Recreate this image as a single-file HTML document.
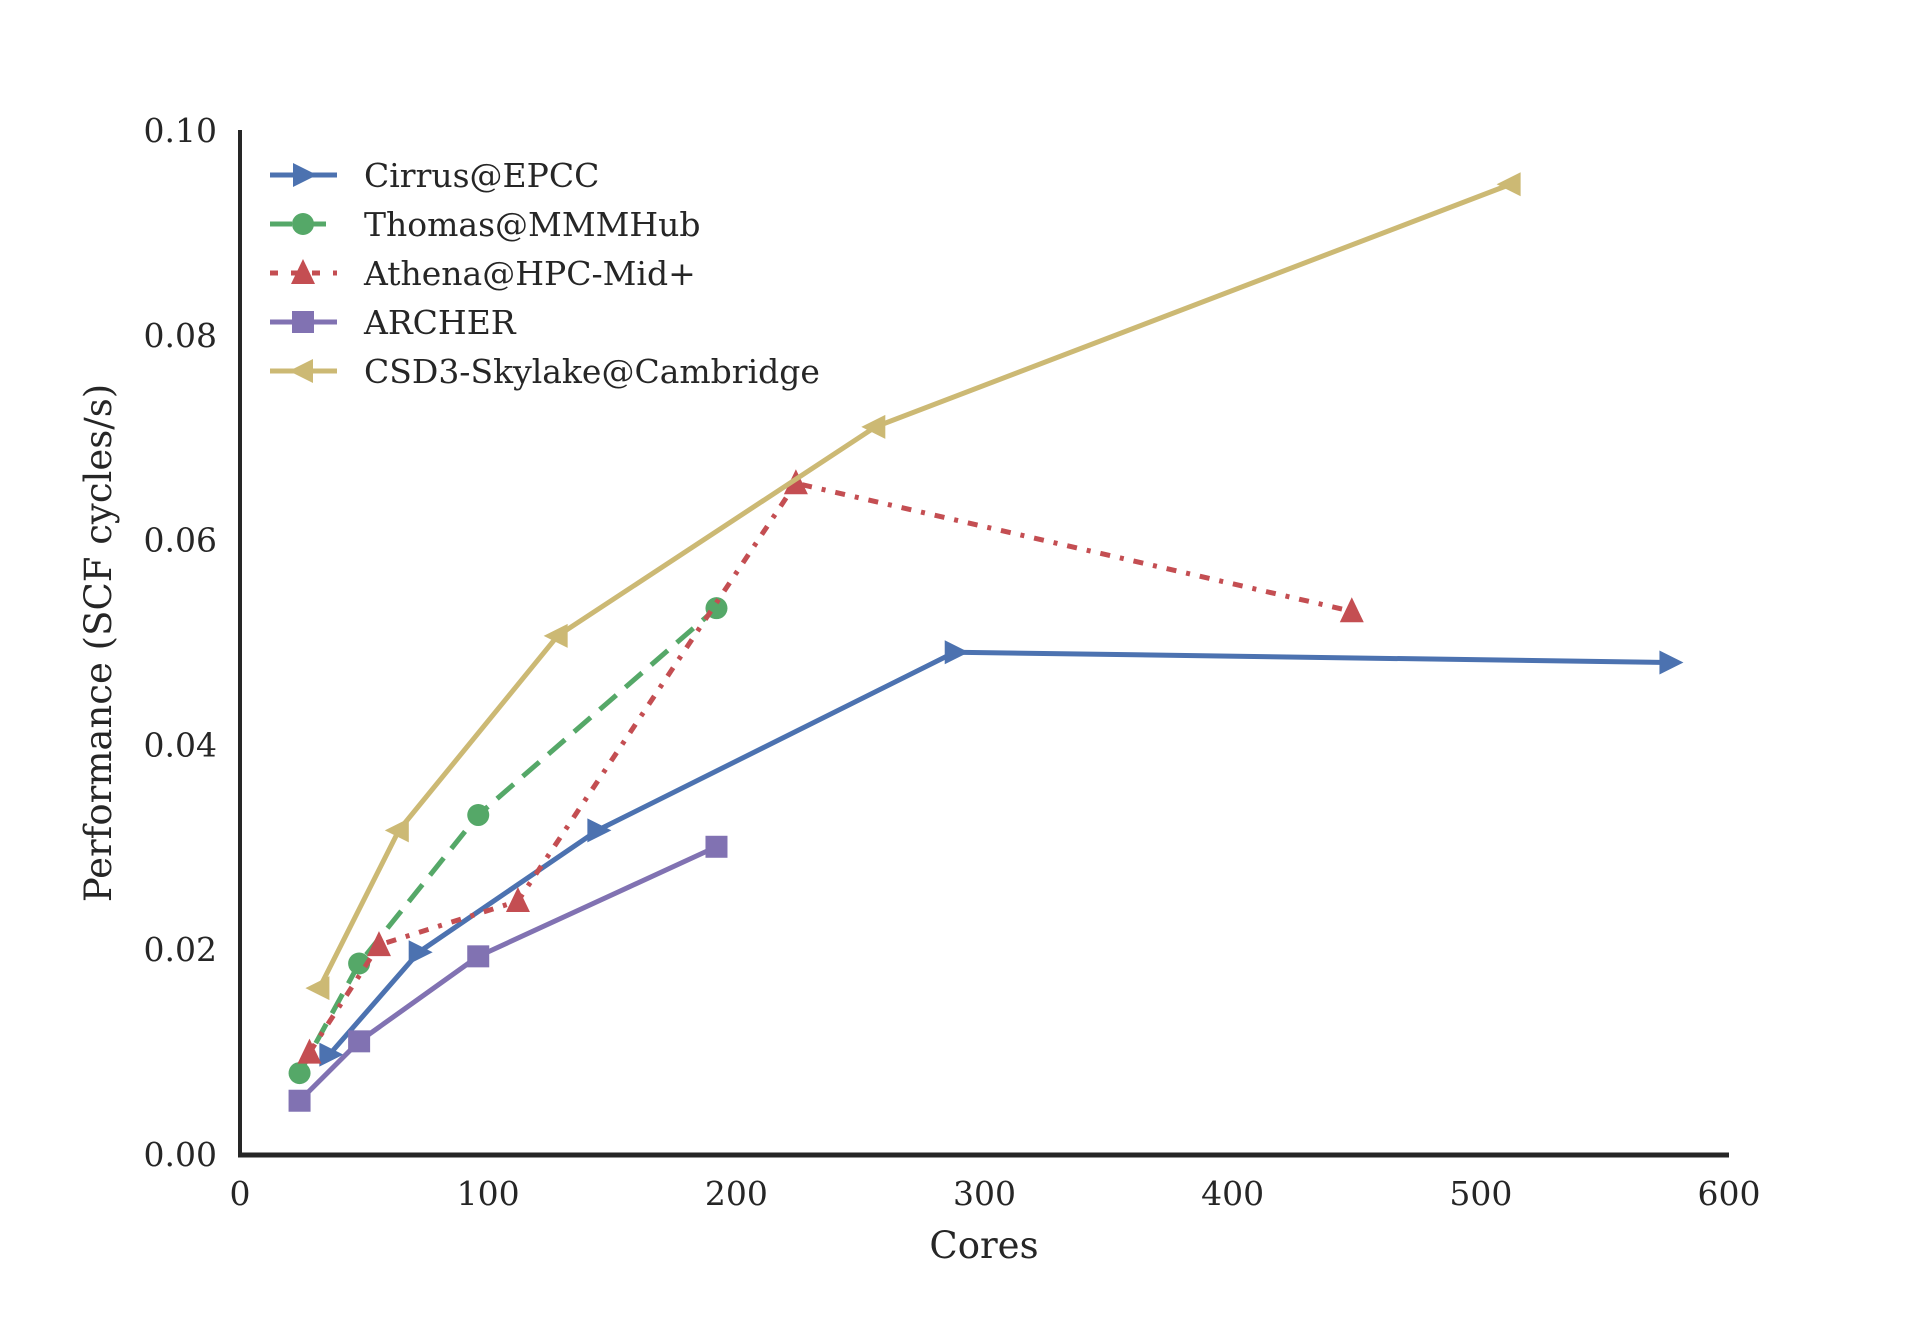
<!DOCTYPE html>
<html><head><meta charset="utf-8">
<style>
html,body{margin:0;padding:0;background:#fff;}
svg{display:block;}
text{font-family:"DejaVu Serif","Liberation Serif",serif;fill:#262626;}
</style></head>
<body>
<svg id="chart" width="1920" height="1320" viewBox="0 0 1920 1320">
  <g id="marks"></g>
  <line x1="240" y1="130" x2="240" y2="1155" stroke="#262626" stroke-width="4"/>
  <line x1="238" y1="1155" x2="1729" y2="1155" stroke="#262626" stroke-width="5"/>
  <g id="xticks"></g>
  <g id="yticks"></g>
  <text x="984" y="1258" font-size="37" text-anchor="middle">Cores</text>
  <text transform="translate(111,643) rotate(-90)" font-size="37" text-anchor="middle">Performance (SCF cycles/s)</text>
  <g id="legend"></g>
</svg>
<script>
const xTicks = [0, 100, 200, 300, 400, 500, 600];
const yTicks = [0.00, 0.02, 0.04, 0.06, 0.08, 0.10];
const seriesNames = ["Cirrus@EPCC", "Thomas@MMMHub", "Athena@HPC-Mid+", "ARCHER", "CSD3-Skylake@Cambridge"];
const cirrusX = [36, 72, 144, 288, 576];
const cirrusY = [0.0098, 0.0198, 0.0317, 0.0491, 0.0481];
const thomasX = [24, 48, 96, 192];
const thomasY = [0.0080, 0.0187, 0.0332, 0.0534];
const athenaX = [28, 56, 112, 224, 448];
const athenaY = [0.0100, 0.0205, 0.0248, 0.0656, 0.0531];
const archerX = [24, 48, 96, 192];
const archerY = [0.0053, 0.0111, 0.0194, 0.0301];
const csd3X = [32, 64, 128, 256, 512];
const csd3Y = [0.0163, 0.0317, 0.0507, 0.0711, 0.0948];

const NS = "http://www.w3.org/2000/svg";
const X0 = 240, X1 = 1729, Y0 = 1155, Y1 = 131;
function sx(v){ return X0 + (v - 0) / 600 * (X1 - X0); }
function sy(v){ return Y0 - v / 0.1 * (Y0 - Y1); }
function mk(tag, attrs, parent){
  const e = document.createElementNS(NS, tag);
  for (const k in attrs) e.setAttribute(k, attrs[k]);
  parent.appendChild(e);
  return e;
}
const xg = document.getElementById("xticks");
xTicks.forEach(t => {
  const e = mk("text", {x: sx(t), y: 1205, "font-size": 33, "text-anchor": "middle"}, xg);
  e.textContent = String(t);
  
  
});
const yg = document.getElementById("yticks");
yTicks.forEach(t => {
  const e = mk("text", {x: 217, y: sy(t) + 11, "font-size": 33, "text-anchor": "end"}, yg);
  e.textContent = t.toFixed(2);
  
  
});

const styles = [
  {c:"#4c72b0", dash:"", m:"tri-right", xs:cirrusX, ys:cirrusY, key:"cirrus"},
  {c:"#55a868", dash:"22 12", m:"circle", xs:thomasX, ys:thomasY, key:"thomas"},
  {c:"#c44e52", dash:"10 10 4 10", m:"tri-up", xs:athenaX, ys:athenaY, key:"athena"},
  {c:"#8172b2", dash:"", m:"square", xs:archerX, ys:archerY, key:"archer"},
  {c:"#ccb974", dash:"", m:"tri-left", xs:csd3X, ys:csd3Y, key:"csd3"}
];
function marker(type, x, y, c, parent){
  const r = 12;
  let e;
  if (type === "circle") e = mk("circle", {cx:x, cy:y, r:11, fill:c}, parent);
  else if (type === "square") e = mk("rect", {x:x-11, y:y-11, width:22, height:22, fill:c}, parent);
  else {
    let pts;
    if (type === "tri-up") pts = [[x, y-r-2],[x-r, y+r-1],[x+r, y+r-1]];
    else if (type === "tri-right") pts = [[x+r+2, y],[x-r+2, y-r],[x-r+2, y+r]];
    else pts = [[x-r-2, y],[x+r-2, y-r],[x+r-2, y+r]];
    e = mk("polygon", {points: pts.map(p => p.join(",")).join(" "), fill:c}, parent);
  }
  return e;
}
const mg = document.getElementById("marks");
styles.forEach((s, i) => {
  const g = mk("g", {}, mg);
  
  
  const pts = s.xs.map((v, j) => sx(v) + "," + sy(s.ys[j])).join(" ");
  const pl = mk("polyline", {points: pts, fill:"none", stroke:s.c, "stroke-width":5, "stroke-dasharray": s.dash || "none", "stroke-linejoin":"round"}, g);
  
  
  s.xs.forEach((v, j) => {
    const m = marker(s.m, sx(v), sy(s.ys[j]), s.c, g);
    
    
  });
});
const lg = document.getElementById("legend");
styles.forEach((s, i) => {
  const y = 175 + i * 49;
  const g = mk("g", {}, lg);
  
  
  mk("line", {x1:270, y1:y, x2:337, y2:y, stroke:s.c, "stroke-width":5, "stroke-dasharray": s.dash ? (i===1 ? "22 12" : "8 13") : "none"}, g);
  marker(s.m, 303, y, s.c, g);
  const t = mk("text", {x:364, y:y + 12, "font-size": 33}, g);
  t.textContent = seriesNames[i];
});
</script>
</body></html>
